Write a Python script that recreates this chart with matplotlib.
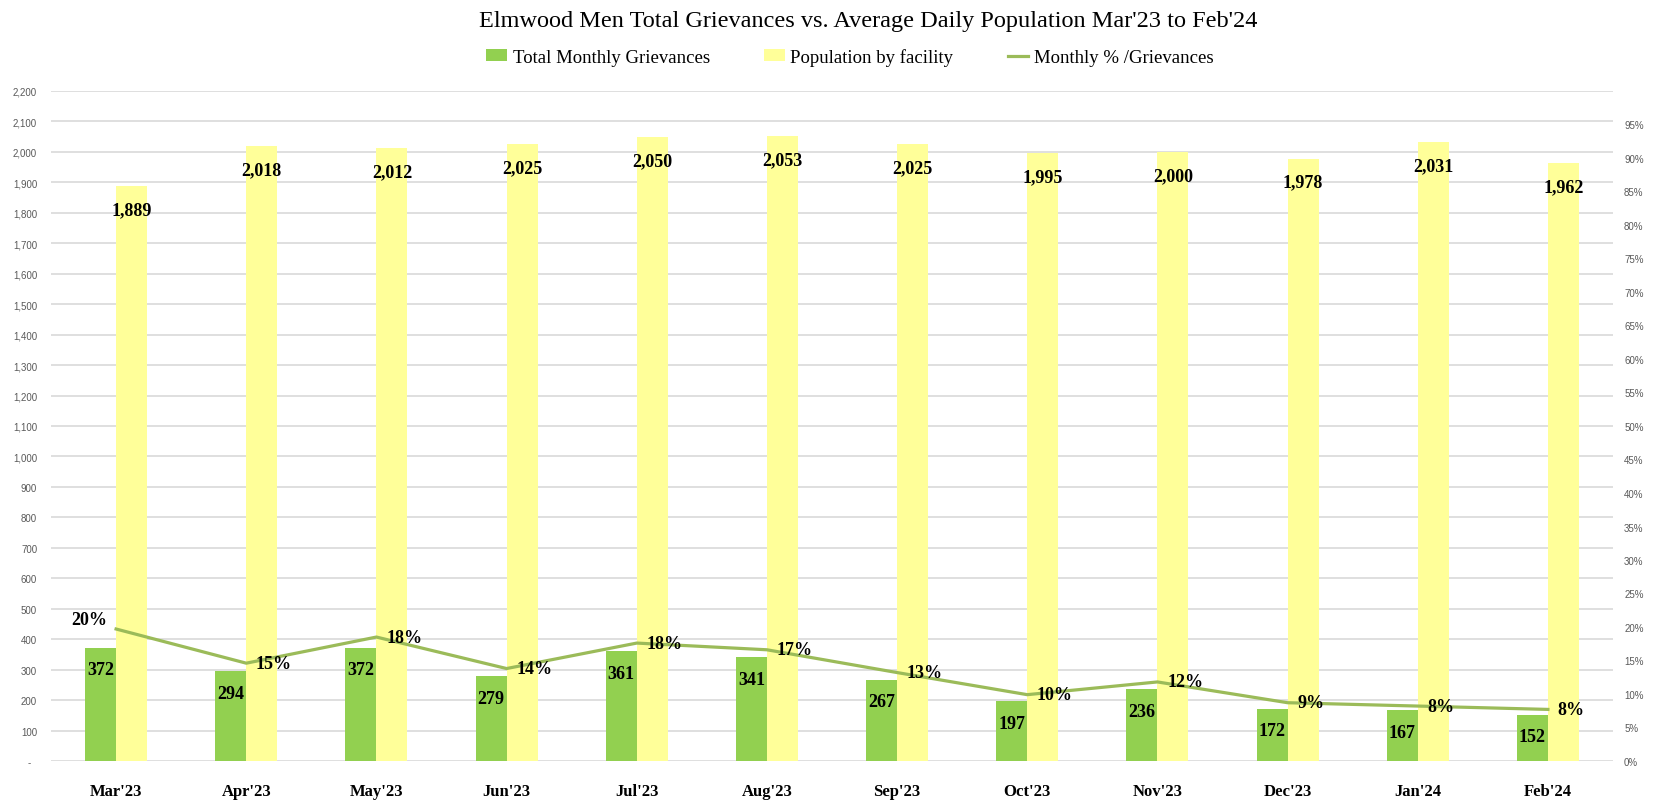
import matplotlib
matplotlib.use("Agg")
import matplotlib.pyplot as plt
import numpy as np
from matplotlib.patches import Patch
from matplotlib.lines import Line2D

# ---- data ----
months = ["Mar'23", "Apr'23", "May'23", "Jun'23", "Jul'23", "Aug'23",
          "Sep'23", "Oct'23", "Nov'23", "Dec'23", "Jan'24", "Feb'24"]
grievances = [372, 294, 372, 279, 361, 341, 267, 197, 236, 172, 167, 152]
population = [1889, 2018, 2012, 2025, 2050, 2053, 2025, 1995, 2000, 1978, 2031, 1962]
pct_grievances = [0.197, 0.146, 0.185, 0.138, 0.176, 0.166, 0.132, 0.099,
                  0.118, 0.087, 0.082, 0.077]
left_ticks = list(range(0, 2300, 100))
right_ticks = [i / 100 for i in range(0, 100, 5)]

GREEN = "#92d050"
YELLOW = "#ffff99"
LINE = "#9bbb59"
SERIF = ["Liberation Serif", "DejaVu Serif"]
SANS = ["Liberation Sans", "DejaVu Sans"]

fig = plt.figure(figsize=(16.57, 8.04), dpi=100)
ax = fig.add_axes([51 / 1657, 42 / 804, 1562 / 1657, 670 / 804])
ax2 = ax.twinx()

x = np.arange(len(months))
w = 0.238
ax.bar(x - w / 2, grievances, width=w, color=GREEN, zorder=2)
ax.bar(x + w / 2, population, width=w, color=YELLOW, zorder=2)
ax2.plot(x, pct_grievances, color=LINE, linewidth=2.3, zorder=3)

# bar labels (inside end)
for xi, v in zip(x, grievances):
    ax.annotate(str(v), (xi - w / 2, v), xytext=(0, -16), textcoords="offset points",
                ha="center", va="center", fontsize=13, fontweight="bold",
                family=SERIF, zorder=4)
for xi, v in zip(x, population):
    ax.annotate(f"{v:,}", (xi + w / 2, v), xytext=(0, -17), textcoords="offset points",
                ha="center", va="center", fontsize=13, fontweight="bold",
                family=SERIF, zorder=4)
# percentage labels
for i, (xi, v) in enumerate(zip(x, pct_grievances)):
    if i == 0:
        off, ha = (-6, 7), "right"
    else:
        off, ha = (7, 0), "left"
    ax2.annotate(f"{v:.0%}", (xi, v), xytext=off, textcoords="offset points",
                 ha=ha, va="center", fontsize=13, fontweight="bold",
                 family=SERIF, zorder=5)

# axes
ax.set_xlim(-0.5, len(months) - 0.5)
ax.set_ylim(0, 2200)
ax2.set_ylim(0, 1.0)
ax.set_yticks(left_ticks)
ax.set_yticklabels(["-  "] + [f"{t:,}" for t in left_ticks[1:]])
ax2.set_yticks(right_ticks)
ax2.set_yticklabels([f"{t:.0%}" for t in right_ticks])
ax.set_xticks(x)
ax.set_xticklabels(months, fontsize=12, fontweight="bold", family=SERIF)
ax.tick_params(axis="x", length=0, pad=16)
ax.tick_params(axis="y", length=0, pad=10, labelsize=7, labelcolor="#595959")
ax2.tick_params(axis="y", length=0, pad=8, labelsize=7, labelcolor="#595959")
for lab in ax.get_yticklabels() + ax2.get_yticklabels():
    lab.set_family(SANS)
ax.grid(axis="y", color="#d9d9d9", linewidth=1.2)
ax.set_axisbelow(True)
for a in (ax, ax2):
    for s in a.spines.values():
        s.set_visible(False)

# title and legend
fig.text(868 / 1657, 1 - 21 / 804, "Elmwood Men Total Grievances vs. Average Daily Population Mar'23 to Feb'24",
         ha="center", va="center", fontsize=17.5, family=SERIF)
handles = [Patch(facecolor=GREEN, edgecolor="none"),
           Patch(facecolor=YELLOW, edgecolor="none"),
           Line2D([0], [0], color=LINE, linewidth=2.3)]
fig.legend(handles, ["Total Monthly Grievances", "Population by facility", "Monthly % /Grievances"],
           loc="center", bbox_to_anchor=(850 / 1657, 1 - 58 / 804), ncol=3, frameon=False,
           prop={"family": SERIF, "size": 13.5}, handlelength=1.1, handleheight=0.6,
           handletextpad=0.3, columnspacing=2.9)

fig.savefig("out.png", dpi=100)
